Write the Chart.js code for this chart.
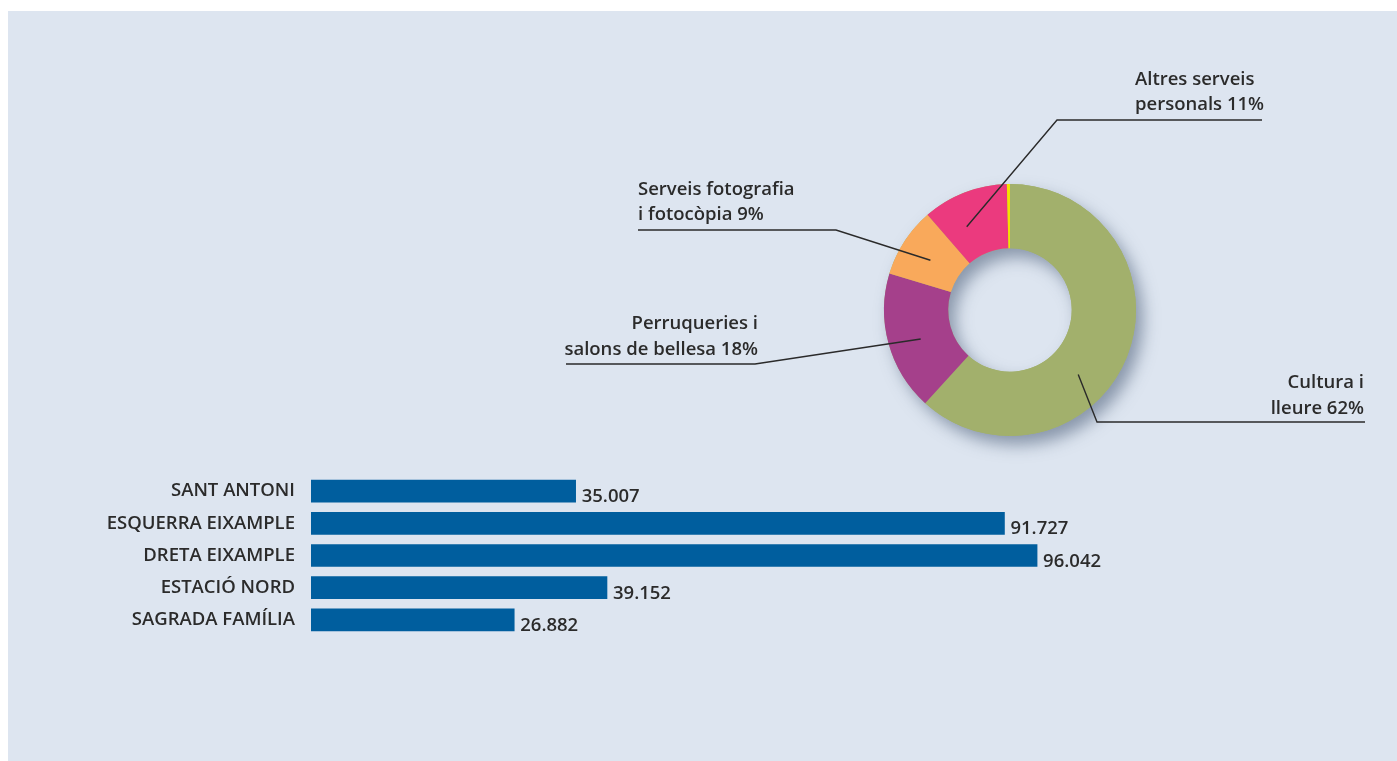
<!DOCTYPE html>
<html>
<head>
<meta charset="utf-8">
<script src="https://cdn.jsdelivr.net/npm/chart.js@4/dist/chart.umd.min.js"></script>
<style>
    html, body { margin: 0; padding: 0; background: #ffffff; }
    body { width: 1397px; height: 761px; position: relative; overflow: hidden; }
    #panel { position: absolute; left: 8px; top: 11px; width: 1389px; height: 750px; background: #dde5f0; }
    #donut-wrap { position: absolute; left: 0; top: 0; width: 1397px; height: 470px; }
    #bar-wrap { position: absolute; left: 8px; top: 475px; width: 1150px; height: 161px; }
</style>
</head>
<body>
<div id="panel"></div>
<div id="donut-wrap"><canvas id="donut-chart"></canvas></div>
<div id="bar-wrap"><canvas id="bar-chart"></canvas></div>
<script>
// Dades del gràfic de sectors
const donutLabels = [
    ['Cultura i', 'lleure'],
    ['Perruqueries i', 'salons de bellesa'],
    ['Serveis fotografia', 'i fotocòpia'],
    ['Altres serveis', 'personals'],
    ['']
];
const donutValues = [62, 18, 9, 11, 0.4];
const donutColors = ['#a2b06c', '#a5408b', '#f9a95b', '#eb3a7e', '#f3e200'];

// Dades del gràfic de barres
const barLabels = ['SANT ANTONI', 'ESQUERRA EIXAMPLE', 'DRETA EIXAMPLE', 'ESTACIÓ NORD', 'SAGRADA FAMÍLIA'];
const barValues = [35007, 91727, 96042, 39152, 26882];

const FONT = "'Open Sans', 'DejaVu Sans', sans-serif";
const FONT_SIZE = 18.5;
const TEXT_COLOR = '#2b2b2b';

function formatNumber(n) {
    return String(n).replace(/\B(?=(\d{3})+(?!\d))/g, '.');
}

// posició dels rètols de cada sector (text, colze de la línia, final de la línia)
const labelLayout = [
    { x: 1364, align: 'right', y: [388, 414], along: 0.60, elbow: [1097, 422], endX: 1365 },
    { x: 758, align: 'right', y: [329, 355], along: 0.46, elbow: [755, 364], endX: 566 },
    { x: 638, align: 'left', y: [195, 220], along: 0.47, elbow: [836, 230], endX: 638 },
    { x: 1135, align: 'left', y: [85, 110], along: 0.34, elbow: [1057, 120], endX: 1262 }
];

const ringShadow = {
    id: 'ringShadow',
    beforeDatasetsDraw(chart) {
        const arc = chart.getDatasetMeta(0).data[0];
        if (!arc) return;
        const { x, y, innerRadius, outerRadius } = arc;
        const ctx = chart.ctx;
        ctx.save();
        ctx.shadowColor = 'rgba(70, 88, 115, 0.55)';
        ctx.shadowBlur = 16;
        ctx.shadowOffsetX = 7;
        ctx.shadowOffsetY = 9;
        ctx.fillStyle = donutColors[0];
        ctx.beginPath();
        ctx.arc(x, y, outerRadius, 0, Math.PI * 2);
        ctx.arc(x, y, innerRadius, 0, Math.PI * 2, true);
        ctx.fill('evenodd');
        ctx.restore();
    }
};

const donutCallouts = {
    id: 'donutCallouts',
    afterDatasetsDraw(chart) {
        const ctx = chart.ctx;
        const arcs = chart.getDatasetMeta(0).data;
        ctx.save();
        ctx.font = `600 ${FONT_SIZE}px ${FONT}`;
        ctx.fillStyle = TEXT_COLOR;
        ctx.strokeStyle = '#2a2a2a';
        ctx.lineWidth = 1.4;
        labelLayout.forEach((lay, i) => {
            const arc = arcs[i];
            const a = arc.startAngle + lay.along * (arc.endAngle - arc.startAngle);
            const r = (arc.innerRadius + arc.outerRadius) / 2;
            const ax = arc.x + r * Math.cos(a);
            const ay = arc.y + r * Math.sin(a);

            ctx.beginPath();
            ctx.moveTo(ax, ay);
            ctx.lineTo(lay.elbow[0], lay.elbow[1]);
            ctx.lineTo(lay.endX, lay.elbow[1]);
            ctx.stroke();

            const lines = donutLabels[i].slice();
            lines[lines.length - 1] += ' ' + donutValues[i] + '%';
            ctx.textAlign = lay.align;
            ctx.textBaseline = 'alphabetic';
            lines.forEach((t, j) => ctx.fillText(t, lay.x, lay.y[j]));
        });
        ctx.restore();
    }
};

new Chart(document.getElementById('donut-chart').getContext('2d'), {
    type: 'doughnut',
    data: {
        labels: donutLabels,
        datasets: [{
            data: donutValues,
            backgroundColor: donutColors,
            borderWidth: 0
        }]
    },
    options: {
        responsive: true,
        maintainAspectRatio: false,
        animation: false,
        radius: 126,
        cutout: '49%',
        layout: { padding: { left: 860, right: 237, top: 160, bottom: 10 } },
        plugins: {
            legend: { display: false },
            tooltip: { enabled: false }
        }
    },
    plugins: [ringShadow, donutCallouts]
});

const barValueLabels = {
    id: 'barValueLabels',
    afterDatasetsDraw(chart) {
        const ctx = chart.ctx;
        const meta = chart.getDatasetMeta(0);
        ctx.save();
        ctx.font = `600 ${FONT_SIZE}px ${FONT}`;
        ctx.fillStyle = TEXT_COLOR;
        ctx.textAlign = 'left';
        ctx.textBaseline = 'alphabetic';
        meta.data.forEach((bar, i) => {
            ctx.fillText(formatNumber(barValues[i]), bar.x + 6, bar.y + bar.height / 2);
        });
        ctx.restore();
    }
};

new Chart(document.getElementById('bar-chart').getContext('2d'), {
    type: 'bar',
    data: {
        labels: barLabels,
        datasets: [{
            data: barValues,
            backgroundColor: '#005e9e',
            borderWidth: 0,
            barThickness: 22
        }]
    },
    options: {
        indexAxis: 'y',
        responsive: true,
        maintainAspectRatio: false,
        animation: false,
        layout: { padding: 0 },
        scales: {
            x: {
                display: false,
                min: 0,
                max: 100000,
                afterFit(scale) {
                    scale.paddingLeft = 0;
                    scale.paddingRight = 91;
                }
            },
            y: {
                grid: { display: false, drawTicks: false },
                border: { display: false },
                ticks: {
                    padding: 16,
                    color: TEXT_COLOR,
                    font: { family: FONT, size: FONT_SIZE, weight: '600' }
                },
                afterFit(scale) {
                    scale.width = 303;
                    scale.paddingTop = 0;
                    scale.paddingBottom = 0;
                }
            }
        },
        plugins: {
            legend: { display: false },
            tooltip: { enabled: false }
        }
    },
    plugins: [barValueLabels]
});
</script>
</body>
</html>
